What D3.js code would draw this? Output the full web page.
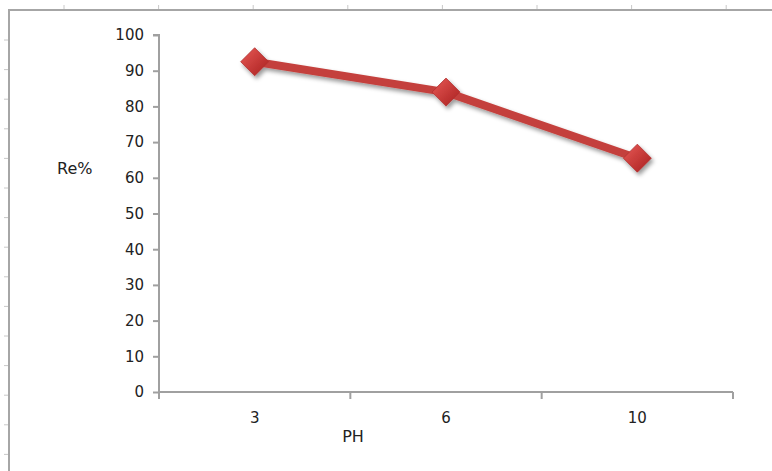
<!DOCTYPE html>
<html>
<head>
<meta charset="utf-8">
<script src="https://cdn.jsdelivr.net/npm/d3@7"></script>
<style>
  body { margin: 0; background: #fff; }
  text { font-family: "DejaVu Sans", sans-serif; fill: #222; }
</style>
</head>
<body>
<svg></svg>
<script>
const [width, height] = [772, 471];

const categories = ['3', '6', '10'];
const values = [92.5, 84, 65.5];
const yTicks = [0, 10, 20, 30, 40, 50, 60, 70, 80, 90, 100];

const margin = { left: 159, right: 39, top: 35, bottom: 79 };
const fontSize = '15px';

const svg = d3.select('svg').attr('width', width).attr('height', height);

const defs = svg.append('defs');
const grad = defs.append('linearGradient').attr('id', 'mk')
  .attr('x1', 0).attr('y1', 0).attr('x2', 1).attr('y2', 1);
grad.append('stop').attr('offset', '0%').attr('stop-color', '#e85a56');
grad.append('stop').attr('offset', '100%').attr('stop-color', '#a81e1e');
const shadow = defs.append('filter').attr('id', 'sh')
  .attr('x', '-30%').attr('y', '-30%').attr('width', '160%').attr('height', '160%');
shadow.append('feDropShadow').attr('dx', 2).attr('dy', 3).attr('stdDeviation', 2)
  .attr('flood-color', '#000').attr('flood-opacity', 0.4);

// outer frame with ruler ticks
const frame = svg.append('g').attr('stroke', '#a6a6a6');
frame.append('path').attr('fill', 'none').attr('stroke-width', 2)
  .attr('d', `M9,${height} V10 H${width}`);
d3.range(64, width, 94.6).forEach(x => {
  frame.append('line').attr('x1', x).attr('x2', x).attr('y1', 5).attr('y2', 9).attr('stroke', '#c8c8c8');
});
d3.range(40, height, 29.6).forEach(y => {
  frame.append('line').attr('x1', 4).attr('x2', 8).attr('y1', y).attr('y2', y).attr('stroke', '#c8c8c8');
});

const x = d3.scaleBand().domain(categories)
  .range([margin.left, width - margin.right]);
const y = d3.scaleLinear().domain([0, 100])
  .range([height - margin.bottom, margin.top]);

// y axis
const yAxis = svg.append('g')
  .attr('transform', `translate(${margin.left},0)`)
  .call(d3.axisLeft(y).tickValues(yTicks).tickSize(6).tickPadding(9));
yAxis.select('.domain').attr('stroke', '#a0a0a0').attr('stroke-width', 2)
  .attr('d', `M-6,${y(100)}H0V${y(0)}`);
yAxis.selectAll('.tick line').attr('stroke', '#a0a0a0').attr('stroke-width', 2);
yAxis.selectAll('.tick text').style('font-size', fontSize).attr('fill', '#222');

// x axis
const xAxis = svg.append('g')
  .attr('transform', `translate(0,${y(0)})`)
  .call(d3.axisBottom(x).tickSize(0).tickPadding(20));
xAxis.select('.domain').attr('stroke', '#a0a0a0').attr('stroke-width', 2)
  .attr('d', `M${margin.left},0H${width - margin.right}`);
xAxis.selectAll('.tick text').style('font-size', fontSize).attr('fill', '#222');
const bounds = categories.map(c => x(c)).concat([x(categories[categories.length - 1]) + x.bandwidth()]);
xAxis.selectAll('.bnd').data(bounds).join('line').attr('class', 'bnd')
  .attr('x1', d => d).attr('x2', d => d).attr('y1', 0).attr('y2', 7)
  .attr('stroke', '#a0a0a0').attr('stroke-width', 2);

// titles
svg.append('text').attr('x', 353).attr('y', 437).attr('text-anchor', 'middle')
  .attr('dominant-baseline', 'middle').style('font-size', '16px').text('PH');
svg.append('text').attr('x', 57).attr('y', 169)
  .attr('dominant-baseline', 'middle').style('font-size', '16px').text('Re%');

// series
const pts = categories.map((c, i) => [x(c) + x.bandwidth() / 2, y(values[i])]);
const series = svg.append('g').attr('filter', 'url(#sh)');
series.append('path').attr('d', d3.line()(pts))
  .attr('fill', 'none').attr('stroke', '#c4413d').attr('stroke-width', 8)
  .attr('stroke-linejoin', 'round');
series.selectAll('.mk').data(pts).join('path').attr('class', 'mk')
  .attr('transform', d => `translate(${d[0]},${d[1]})`)
  .attr('d', 'M0,-14L14,0L0,14L-14,0Z')
  .attr('fill', 'url(#mk)').attr('stroke', '#b03030').attr('stroke-width', 0.8);
</script>
</body>
</html>
